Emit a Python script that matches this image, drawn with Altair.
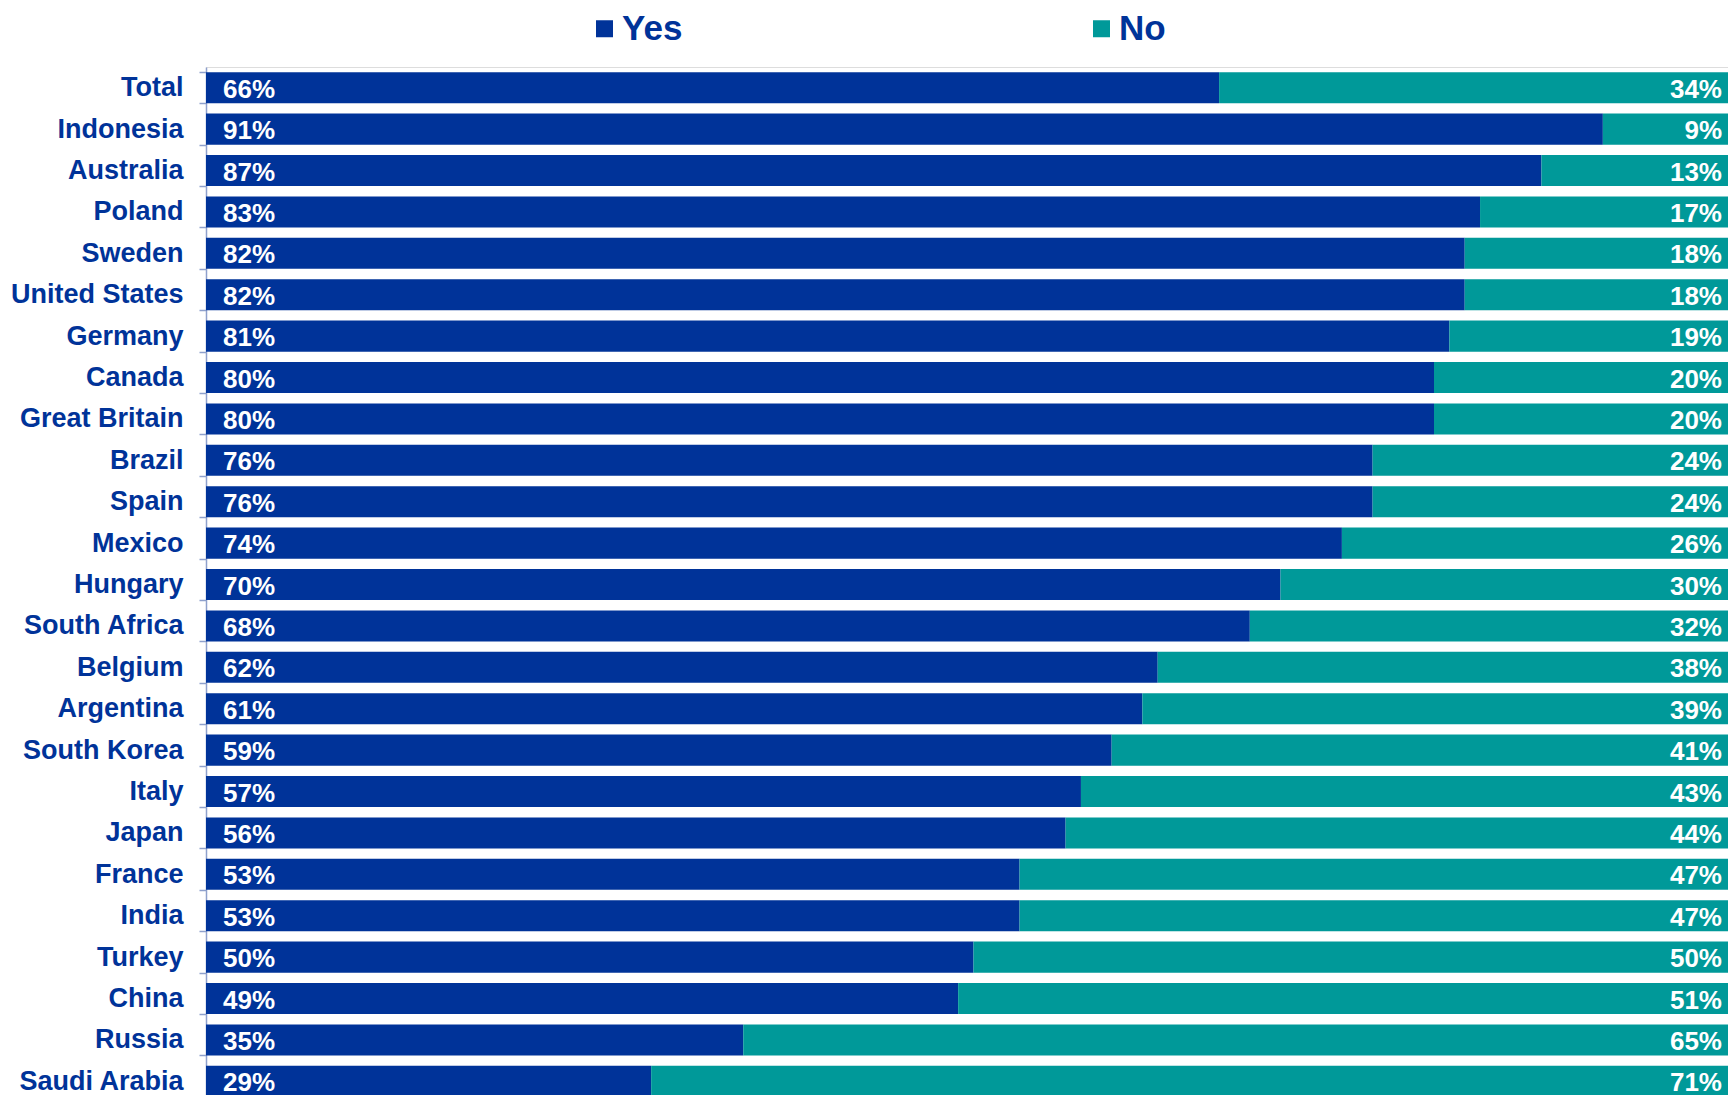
import altair as alt
import pandas as pd

countries = ["Total", "Indonesia", "Australia", "Poland", "Sweden", "United States",
             "Germany", "Canada", "Great Britain", "Brazil", "Spain", "Mexico",
             "Hungary", "South Africa", "Belgium", "Argentina", "South Korea", "Italy",
             "Japan", "France", "India", "Turkey", "China", "Russia", "Saudi Arabia"]
yes_vals = [66, 91, 87, 83, 82, 82, 81, 80, 80, 76, 76, 74, 70, 68, 62, 61, 59, 57,
            56, 53, 53, 50, 49, 35, 29]
no_vals = [34, 9, 13, 17, 18, 18, 19, 20, 20, 24, 24, 26, 30, 32, 38, 39, 41, 43,
           44, 47, 47, 50, 51, 65, 71]
answers = ["Yes", "No"]
colors = ["#003399", "#009999"]

rows = []
for c, y, n in zip(countries, yes_vals, no_vals):
    rows.append({"country": c, "answer": "Yes", "value": y, "start": 0, "end": y,
                 "label": f"{y}%"})
    rows.append({"country": c, "answer": "No", "value": n, "start": y, "end": y + n,
                 "label": f"{n}%"})
df = pd.DataFrame(rows)

FONT = "Liberation Sans"
PX_PER_PCT = 15.35
PLOT_W = 1522
x_scale = alt.Scale(domain=[0, PLOT_W / PX_PER_PCT], nice=False, zero=True)

y_enc = alt.Y("country:N", sort=countries,
              scale=alt.Scale(paddingInner=0.25, paddingOuter=0.125),
              axis=alt.Axis(title=None, labelFont=FONT, labelFontSize=27,
                            labelFontWeight="bold", labelColor="#003399",
                            domainColor="#8EA0CC", tickColor="#8EA0CC",
                            tickSize=7, tickBand="extent", labelPadding=16,
                            domainWidth=1.5, tickWidth=1.5))

bars = alt.Chart(df).mark_bar(clip=True).encode(
    x=alt.X("start:Q", scale=x_scale, axis=None),
    x2="end:Q",
    y=y_enc,
    color=alt.Color("answer:N", scale=alt.Scale(domain=answers, range=colors),
                    sort=answers,
                    legend=alt.Legend(title=None, orient="none", legendX=381,
                                      legendY=-56, direction="horizontal",
                                      columnPadding=401, symbolType="square",
                                      symbolSize=289, symbolStrokeWidth=0,
                                      labelFont=FONT, labelFontSize=35,
                                      labelFontWeight="bold", labelColor="#003399",
                                      labelOffset=0)),
)

yes_text = alt.Chart(df).transform_filter(alt.datum.answer == "Yes").mark_text(
    align="left", baseline="middle", dx=17, dy=2, font=FONT, fontSize=26,
    fontWeight="bold", color="white"
).encode(x=alt.X("start:Q", scale=x_scale), y=alt.Y("country:N", sort=countries),
         text="label:N")

no_text = alt.Chart(df).transform_filter(alt.datum.answer == "No").mark_text(
    align="right", baseline="middle", dx=-19, dy=2, font=FONT, fontSize=26,
    fontWeight="bold", color="white"
).encode(x=alt.X("end:Q", scale=x_scale), y=alt.Y("country:N", sort=countries),
         text="label:N")

chart = alt.layer(bars, yes_text, no_text).properties(
    width=PLOT_W, height=1035,
    autosize=alt.AutoSizeParams(type="none"),
    padding={"left": 198, "top": 59, "right": 0, "bottom": 0},
).configure_view(strokeWidth=0).configure(background="white")

chart.save("out.html", embed_options={"renderer": "svg", "actions": False})
